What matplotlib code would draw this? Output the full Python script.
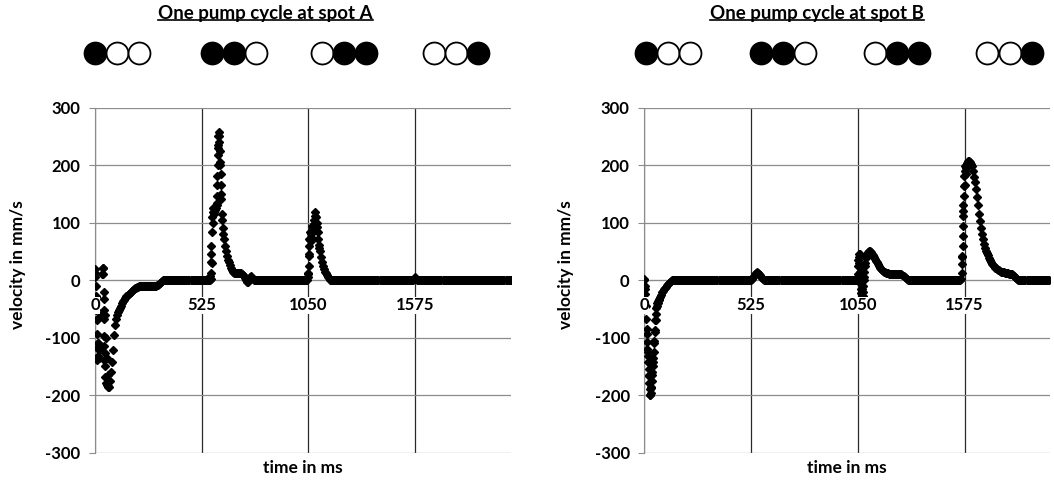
import numpy as np
import matplotlib
matplotlib.use("Agg")
import matplotlib.pyplot as plt
from matplotlib.lines import Line2D
from matplotlib.transforms import offset_copy

plt.rcParams["font.family"] = ["Lato", "DejaVu Sans"]
plt.rcParams["font.weight"] = "bold"
plt.rcParams["axes.unicode_minus"] = False

# ---- data ----
titles = ["One pump cycle at spot A", "One pump cycle at spot B"]
phases = ["●○○", "●●○", "○●●", "○○●"]
x_ticks = [0, 525, 1050, 1575]
y_ticks = [-300, -200, -100, 0, 100, 200, 300]

# spot A, sampled every 5 ms
time_a = np.arange(0, 2050, 5)
vel_a = ([19, -30, -70, -110, -135, -120, -60, 10, 22, -20, -60, -100, -135, -165, -185]
         + [-175, -160, -142, -122, -96, -78, -68, -61, -56, -52, -48, -44, -40, -37, -34,
            -31, -28, -26, -24, -22, -20, -18, -17, -15, -14, -13, -12, -11, -10]
         + [-10] * 17
         + [-9, -8, -7, -5, -3, -1]
         + [0] * 47
         + [2, 30, 100, 118, 122, 125, 130, 230, 250, 200, 150, 115, 90, 72, 60, 50, 42, 36,
            31, 26, 22, 18, 15, 13, 13, 13, 13, 13, 13, 13, 12, 11, 9, 7, 4, 0, -3, -3, 0, 5,
            7, 4, 0]
         + [0] * 53
         + [10, 45, 70, 80, 85, 90, 105, 118, 100, 84, 62, 50, 40, 32, 25, 19, 15, 12, 9, 6,
            3, 1, 0]
         + [0] * 81
         + [2, 5, 2]
         + [0] * 93)

# spot A, scattered readings on the steep parts
extra_t_a = [1, 2, 3, 5, 7, 9, 11, 13, 12, 14, 12,
             41, 40, 42, 44, 45, 46, 46, 48, 46, 48, 49, 52, 57, 62, 66,
             568, 570, 571, 572, 573, 574, 577, 580, 583, 588, 592, 598, 600, 601, 602, 603,
             604, 605, 607, 609, 612, 614, 616, 618, 619, 622, 627, 632,
             1049, 1050, 1051, 1052, 1053, 1055, 1058, 1062, 1066, 1070, 1073, 1078, 1082,
             1087, 1092, 1097, 1102]
extra_v_a = [12, 5, -10, -27, -51, -68, -94, -109, -118, -132, -138,
             22, 10, -33, -51, -68, -97, -115, -127, -138, -150, -168, -178, -182, -184, -186,
             8, 13, 32, 45, 60, 84, 110, 118, 125, 115, 128, 135, 147, 165, 182, 200,
             217, 235, 250, 258, 240, 225, 205, 185, 165, 141, 105, 80,
             5, 13, 25, 42, 60, 72, 84, 75, 95, 70, 88, 98, 112,
             110, 92, 72, 56]

# spot B, sampled every 5 ms
time_b = np.arange(0, 1995, 5)
vel_b = ([0, -15, -45, -85, -125, -165, -200, -185, -160, -135, -105, -70, -48, -40, -34,
          -29, -25, -21, -18, -15, -13, -11, -9, -7, -5, -3, -1]
         + [0] * 79
         + [2, 5, 8, 11, 13, 14, 13, 11, 9, 6, 4, 2, 1]
         + [0] * 91
         + [10, 40, 45, 20, -15, -28, 0, 25, 38, 45, 49, 51, 51, 49, 46, 43, 40, 37, 34, 31,
            28, 25, 22, 20, 18, 16, 15, 14, 13, 12, 12, 11, 11, 10, 10, 10, 10, 10, 10, 10,
            10, 10, 10, 10, 9, 8, 6, 4, 2, 1]
         + [0] * 52
         + [2, 40, 120, 190, 195, 203, 207, 207, 205, 202, 198, 190, 180, 170, 158, 145, 130,
            116, 103, 91, 80, 71, 63, 56, 51, 47, 43, 39, 35, 32, 29, 26, 24, 22, 21, 19, 18,
            17, 16, 15, 15, 14, 14, 13, 13, 12, 12, 11, 11, 10, 10, 9, 8, 6, 4, 2, 1]
         + [0] * 30)

extra_t_b = [0, 2, 4, 8, 11, 13, 15, 17, 19, 21, 23, 25, 27, 28,
             31, 33, 37, 39, 42, 44, 47, 49, 52, 53, 56, 58, 61, 64, 68, 72,
             1049, 1051, 1052, 1054, 1057, 1059, 1061, 1063, 1066, 1068, 1072, 1074, 1077,
             1079, 1082, 1087, 1092,
             1563, 1564, 1565, 1566, 1567, 1568, 1569, 1570, 1571, 1572, 1573, 1575, 1578,
             1580, 1583]
extra_v_b = [2, -10, -24, -68, -94, -108, -120, -132, -143, -155, -167, -178, -190, -199,
             -196, -188, -175, -165, -150, -143, -125, -110, -90, -86, -70, -58, -45, -40,
             -36, -32,
             5, 25, 35, 45, 30, 15, 5, -5, -15, -22, -28, -20, -10,
             5, 15, 30, 42,
             13, 28, 42, 60, 77, 95, 112, 130, 147, 164, 182, 199, 165,
             185, 200]

W, H = 1054, 484
fig = plt.figure(figsize=(W / 100, H / 100), dpi=100)

panels = [
    dict(rect=[95 / W, 1 - 452.7 / H, 416 / W, 345 / H], xmax=2047,
         t=time_a, v=vel_a, tx=extra_t_a, vx=extra_v_a,
         groups=[0.053, 0.334, 0.599, 0.868], title_x=265.5, ylab_x=18),
    dict(rect=[644.3 / W, 1 - 452.7 / H, 406 / W, 345 / H], xmax=1997,
         t=time_b, v=vel_b, tx=extra_t_b, vx=extra_v_b,
         groups=[0.058, 0.342, 0.622, 0.90], title_x=816.7, ylab_x=566),
]

grey = "#8c8c8c"
title_texts = []
for p, title in zip(panels, titles):
    ax = fig.add_axes(p["rect"])
    ax.plot(p["t"], p["v"], ls="none", marker="D", ms=4.3, color="black", zorder=3)
    ax.plot(p["tx"], p["vx"], ls="none", marker="D", ms=4.3, color="black", zorder=3)
    ax.set_xlim(0, p["xmax"])
    ax.set_ylim(-300, 300)
    ax.set_xticks(x_ticks)
    ax.set_xticklabels([])
    ax.set_yticks(y_ticks)
    ax.tick_params(axis="x", length=0)
    ax.tick_params(axis="y", direction="out", length=4.5, color=grey, pad=6,
                   labelsize=12)
    ax.grid(axis="x", color="#2a2a2a", lw=0.9)
    ax.grid(axis="y", color=grey, lw=0.9)
    ax.set_axisbelow(True)
    ax.spines["top"].set_visible(False)
    ax.spines["right"].set_visible(False)
    ax.spines["bottom"].set_position(("data", 0))
    ax.spines["bottom"].set_color(grey)
    ax.spines["left"].set_color(grey)
    for xt in x_ticks:
        ax.annotate(str(xt), xy=(xt, 0), xytext=(0, -18), textcoords="offset points",
                    ha="center", va="center", fontsize=12, zorder=6,
                    annotation_clip=False,
                    bbox=dict(fc="white", ec="none", pad=0.2))

    # pump state symbols above the chart
    for gx, pat in zip(p["groups"], phases):
        for k, ch in enumerate(pat):
            tr = offset_copy(ax.transAxes, fig=fig, x=(k - 1) * 16.0, y=0, units="points")
            ax.plot([gx], [1.1586], transform=tr, marker="o", ms=15.8, mew=1.3,
                    mec="black", mfc="black" if ch == "●" else "white",
                    clip_on=False, ls="none")

    t = fig.text(p["title_x"] / W, 1 - 14 / H, title, ha="center", va="center",
                 fontsize=13.5)
    title_texts.append(t)
    fig.text(p["ylab_x"] / W, 1 - 265 / H, "velocity in mm/s", rotation=90,
             ha="center", va="center", fontsize=12.5)
    fig.text((p["rect"][0] + p["rect"][2] / 2), 1 - 468 / H, "time in ms",
             ha="center", va="center", fontsize=12.5)

# underline the titles
fig.canvas.draw()
inv = fig.transFigure.inverted()
for t in title_texts:
    bb = t.get_window_extent()
    (x0, y0), (x1, _) = inv.transform([(bb.x0, bb.y0 + 2.5), (bb.x1, bb.y0 + 2.5)])
    fig.add_artist(Line2D([x0, x1], [y0, y0], color="black", lw=1.2,
                          transform=fig.transFigure))

fig.savefig("out.png", dpi=100)
